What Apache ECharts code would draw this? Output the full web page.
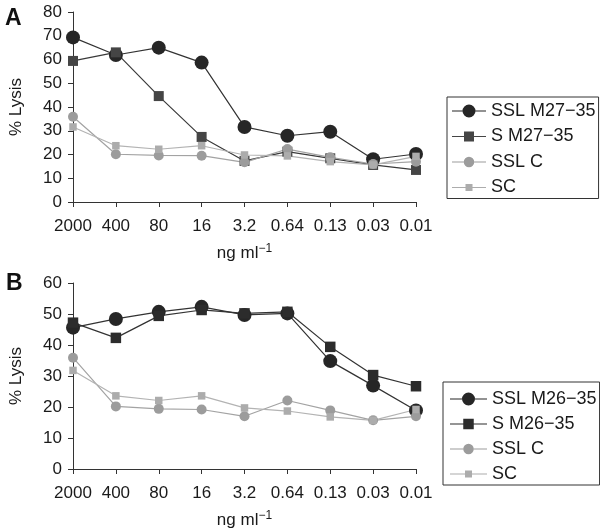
<!DOCTYPE html>
<html>
<head>
<meta charset="utf-8">
<script src="https://cdn.jsdelivr.net/npm/echarts@6/dist/echarts.min.js"></script>
<style>html,body{margin:0;padding:0;background:#fff}#c{width:600px;height:530px}</style>
</head>
<body>
<div id="c"></div>
<script>
var categories = ['2000', '400', '80', '16', '3.2', '0.64', '0.13', '0.03', '0.01'];
var yTicksA = [0, 80, 10];
var yTicksB = [0, 60, 10];

var namesA = ['SSL M27\u221235', 'S M27\u221235', 'SSL C', 'SC'];
var namesB = ['SSL M26\u221235', 'S M26\u221235', 'SSL C', 'SC'];

var sslM27 = [69.3, 61.9, 65.0, 58.7, 31.6, 27.9, 29.6, 18.0, 20.2];
var sM27   = [59.4, 63.0, 44.6, 27.4, 17.3, 21.2, 18.4, 15.6, 13.5];
var sslC_A = [35.9, 20.1, 19.6, 19.5, 16.7, 22.3, 18.8, 16.0, 17.0];
var sc_A   = [31.6, 23.7, 22.2, 23.7, 19.8, 19.4, 17.0, 15.6, 19.2];

var sslM26 = [45.6, 48.4, 50.7, 52.3, 49.7, 50.2, 34.8, 26.9, 18.9];
var sM26   = [47.2, 42.3, 49.4, 51.3, 50.2, 50.7, 39.4, 30.3, 26.7];
var sslC_B = [35.9, 20.2, 19.4, 19.2, 17.0, 22.1, 18.9, 15.7, 17.0];
var sc_B   = [31.8, 23.6, 22.1, 23.6, 19.7, 18.7, 16.8, 15.7, 19.2];

var FONT = '"Liberation Sans", Arial, sans-serif';
var TXT = '#1a1a1a';
var AX = '#333';

var styles = [
  {symbol: 'circle', size: 14, color: '#262626', line: '#333', lg: 13},
  {symbol: 'rect', size: 10, color: '#454545', line: '#3a3a3a', lg: 10},
  {symbol: 'circle', size: 10, color: '#9c9c9c', line: '#a3a3a3', lg: 10.5},
  {symbol: 'rect', size: 7.5, color: '#acacac', line: '#b3b3b3', lg: 7}
];
var stylesB = [
  {symbol: 'circle', size: 14, color: '#262626', line: '#333', lg: 13},
  {symbol: 'rect', size: 10.5, color: '#2c2c2c', line: '#333', lg: 10.5},
  {symbol: 'circle', size: 10, color: '#9c9c9c', line: '#a3a3a3', lg: 10.5},
  {symbol: 'rect', size: 7.5, color: '#acacac', line: '#b3b3b3', lg: 7}
];

// legend icon: line with a centred marker
function iconPath(symbol, size, W) {
  var c = W / 2, h = size / 2, t = 0.6;
  var p = 'path://M0 ' + (-t) + ' L' + (c - h) + ' ' + (-t) + ' L' + (c - h) + ' ' + t + ' L0 ' + t + ' Z ';
  p += 'M' + (c + h) + ' ' + (-t) + ' L' + W + ' ' + (-t) + ' L' + W + ' ' + t + ' L' + (c + h) + ' ' + t + ' Z ';
  if (symbol === 'circle') {
    p += 'M' + (c - h) + ' 0 A' + h + ' ' + h + ' 0 1 0 ' + (c + h) + ' 0 A' + h + ' ' + h + ' 0 1 0 ' + (c - h) + ' 0 Z';
  } else {
    p += 'M' + (c - h) + ' ' + (-h) + ' L' + (c + h) + ' ' + (-h) + ' L' + (c + h) + ' ' + h + ' L' + (c - h) + ' ' + h + ' Z';
  }
  return p;
}

function xAxis(gi) {
  return {
    type: 'category', gridIndex: gi, data: categories, boundaryGap: false,
    axisLine: {lineStyle: {color: AX, width: 1}},
    axisTick: {length: 5, interval: 0, lineStyle: {color: AX}},
    axisLabel: {color: TXT, fontSize: 17, fontFamily: FONT, margin: 16, interval: 0},
    name: 'ng ml{sup|\u22121}', nameLocation: 'middle', nameGap: 41,
    nameTextStyle: {color: TXT, fontSize: 17, fontFamily: FONT,
      rich: {sup: {fontSize: 12, fontFamily: FONT, color: TXT, verticalAlign: 'top', padding: [0, 0, 9, 0]}}}
  };
}
function yAxis(gi, t) {
  return {
    type: 'value', gridIndex: gi, min: t[0], max: t[1], interval: t[2],
    splitLine: {show: false},
    axisLine: {show: true, lineStyle: {color: AX, width: 1}},
    axisTick: {show: true, length: 5, lineStyle: {color: AX}},
    axisLabel: {color: TXT, fontSize: 17, fontFamily: FONT, margin: 11},
    name: '% Lysis', nameLocation: 'middle', nameGap: 48,
    nameTextStyle: {color: TXT, fontSize: 17, fontFamily: FONT}
  };
}
function series(name, data, st, gi) {
  return {
    name: name, type: 'line', xAxisIndex: gi, yAxisIndex: gi, data: data,
    symbol: st.symbol, symbolSize: st.size, showSymbol: true,
    itemStyle: {color: st.color},
    lineStyle: {color: st.line, width: 1.2},
    emphasis: {disabled: true}, animation: false
  };
}
function legend(names, sts, top, left, W, gap, pad) {
  return {
    show: true, orient: 'vertical', left: left, top: top,
    data: names.map(function (n, k) { return {name: n, icon: iconPath(sts[k].symbol, sts[k].lg, W)}; }),
    itemWidth: W, itemHeight: 16, itemGap: gap,
    padding: pad,
    borderColor: '#333', borderWidth: 1,
    textStyle: {color: TXT, fontSize: 18, fontFamily: FONT},
    selectedMode: false
  };
}

var chart = echarts.init(document.getElementById('c'), null, {renderer: 'canvas'});
var s = [];
var dA = [sslM27, sM27, sslC_A, sc_A];
var dB = [sslM26, sM26, sslC_B, sc_B];
for (var i = 0; i < 4; i++) s.push(series(namesA[i], dA[i], styles[i], 0));
for (var j = 0; j < 4; j++) s.push(series(namesB[j], dB[j], stylesB[j], 1));

chart.setOption({
  animation: false,
  backgroundColor: '#fff',
  grid: [
    {left: 68, right: 184, top: 12, height: 190},
    {left: 68, right: 184, top: 283, height: 188}
  ],
  xAxis: [xAxis(0), xAxis(1)],
  yAxis: [yAxis(0, yTicksA), yAxis(1, yTicksB)],
  legend: [
    legend(namesA, styles, 97, 447, 34, 7.5, [5, 3, 2, 5]),
    legend(namesB, stylesB, 382, 443, 37, 7, [8, 3, 2, 7])
  ],
  graphic: [
    {type: 'text', left: 5, top: 7, style: {text: 'A', fontSize: 23, fontWeight: 'bold', fontFamily: FONT, fill: '#111'}},
    {type: 'text', left: 6, top: 272, style: {text: 'B', fontSize: 23, fontWeight: 'bold', fontFamily: FONT, fill: '#111'}}
  ],
  series: s
});
</script>
</body>
</html>
